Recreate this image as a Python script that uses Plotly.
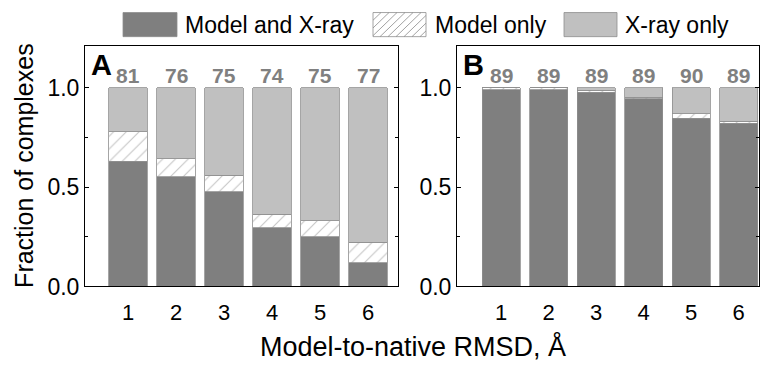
import plotly.graph_objects as go

# ---------------- data ----------------
categories = [1, 2, 3, 4, 5, 6]

# Panel A
a_model_and_xray = [0.630, 0.552, 0.477, 0.295, 0.250, 0.118]
a_model_only = [0.148, 0.091, 0.082, 0.069, 0.080, 0.104]
a_xray_only = [0.222, 0.357, 0.441, 0.636, 0.670, 0.778]
a_counts = [81, 76, 75, 74, 75, 77]

# Panel B
b_model_and_xray = [0.989, 0.989, 0.976, 0.944, 0.847, 0.820]
b_model_only = [0.011, 0.011, 0.011, 0.008, 0.021, 0.010]
b_xray_only = [0.000, 0.000, 0.013, 0.048, 0.132, 0.170]
b_counts = [89, 89, 89, 89, 90, 89]

series_names = ["Model and X-ray", "Model only", "X-ray only"]
panel_labels = ["A", "B"]
y_tickvals = [0.0, 0.5, 1.0]
y_ticktext = ["0.0", "0.5", "1.0"]
x_title = "Model-to-native RMSD, Å"
y_title = "Fraction of complexes"

# ---------------- style ----------------
W, H = 762, 366
FONT = "Arial, Liberation Sans, Helvetica, sans-serif"
DARK = "#7f7f7f"
LIGHT = "#c0c0c0"
EDGE = "#8e8e8e"
HATCH_FG = "#8a8a8a"
COUNT_COLOR = "#808080"


def px_x(x):
    return x / W


def px_y(y):
    return (H - y) / H


fig = go.Figure()

panels = [
    (a_model_and_xray, a_model_only, a_xray_only, "x", "y"),
    (b_model_and_xray, b_model_only, b_xray_only, "x2", "y2"),
]
for both, monly, xonly, xa, ya in panels:
    fig.add_trace(go.Bar(x=categories, y=both, name=series_names[0],
                         marker=dict(color=DARK, line=dict(color=EDGE, width=0.8)),
                         xaxis=xa, yaxis=ya, showlegend=False))
    fig.add_trace(go.Bar(x=categories, y=monly, name=series_names[1],
                         marker=dict(color="white", line=dict(color=EDGE, width=0.8),
                                     pattern=dict(shape="/", fgcolor=HATCH_FG, bgcolor="white",
                                                  size=9, solidity=0.12)),
                         xaxis=xa, yaxis=ya, showlegend=False))
    fig.add_trace(go.Bar(x=categories, y=xonly, name=series_names[2],
                         marker=dict(color=LIGHT, line=dict(color=EDGE, width=0.8)),
                         xaxis=xa, yaxis=ya, showlegend=False))

annotations = []
for counts, xa, ya in [(a_counts, "x", "y"), (b_counts, "x2", "y2")]:
    for c, n in zip(categories, counts):
        annotations.append(dict(x=c, y=1.0, xref=xa, yref=ya, text=f"<b>{n}</b>",
                                showarrow=False, yanchor="bottom", yshift=-1,
                                font=dict(family=FONT, size=21, color=COUNT_COLOR)))

for lab, xa, ya in [(panel_labels[0], "x", "y"), (panel_labels[1], "x2", "y2")]:
    annotations.append(dict(x=0.012, y=1.0, xref=f"{xa} domain", yref=f"{ya} domain",
                            text=f"<b>{lab}</b>", showarrow=False, xanchor="left",
                            yanchor="top", yshift=-1,
                            font=dict(family=FONT, size=29, color="black")))

annotations.append(dict(x=px_x(413), y=px_y(359), xref="paper", yref="paper", text=x_title,
                        showarrow=False, xanchor="center", yanchor="middle",
                        font=dict(family=FONT, size=27, color="black")))
annotations.append(dict(x=px_x(24), y=px_y(172), xref="paper", yref="paper", text=y_title,
                        showarrow=False, textangle=-90, xanchor="center", yanchor="middle",
                        font=dict(family=FONT, size=25, color="black")))

# ---------------- custom legend ----------------
shapes = []
box_top, box_bot = 13, 38
legend_items = [
    (123, 177, "dark", 185, series_names[0]),
    (373, 426, "hatch", 435, series_names[1]),
    (564, 617, "light", 625, series_names[2]),
]
for x0, x1, kind, tx, label in legend_items:
    fill = {"dark": DARK, "hatch": "white", "light": LIGHT}[kind]
    shapes.append(dict(type="rect", xref="paper", yref="paper",
                       x0=px_x(x0), x1=px_x(x1), y0=px_y(box_bot), y1=px_y(box_top),
                       fillcolor=fill, line=dict(color=EDGE, width=0.8)))
    if kind == "hatch":
        step = 8
        hgt = box_bot - box_top
        path = ""
        s = x0 - hgt
        while s < x1:
            xa0, ya0 = s, box_bot
            xa1, ya1 = s + hgt, box_top
            if xa0 < x0:
                ya0 = box_bot - (x0 - xa0)
                xa0 = x0
            if xa1 > x1:
                ya1 = box_top + (xa1 - x1)
                xa1 = x1
            if xa1 > xa0:
                path += f"M{px_x(xa0)},{px_y(ya0)} L{px_x(xa1)},{px_y(ya1)} "
            s += step
        shapes.append(dict(type="path", xref="paper", yref="paper", path=path,
                           line=dict(color=HATCH_FG, width=0.8)))
    annotations.append(dict(x=px_x(tx), y=px_y((box_top + box_bot) / 2), xref="paper",
                            yref="paper", text=label, showarrow=False, xanchor="left",
                            yanchor="middle", xshift=-2,
                            font=dict(family=FONT, size=23, color="black")))

yaxis_common = dict(range=[0, 1.21], tickvals=y_tickvals, ticktext=y_ticktext,
                    ticks="inside", ticklen=4, tickcolor="black", mirror="ticks",
                    showline=True, linecolor="black", linewidth=1, showgrid=False,
                    zeroline=False, tickfont=dict(family=FONT, size=23, color="black"),
                    minor=dict(ticks="inside", ticklen=3, dtick=0.25, tick0=0, tickcolor="black"),
                    domain=[px_y(297), px_y(47.5)])
xaxis_common = dict(tickvals=categories, ticks="", showline=True, linecolor="black",
                    linewidth=1, mirror=True, showgrid=False, zeroline=False,
                    ticklabelstandoff=6,
                    tickfont=dict(family=FONT, size=22, color="black"))

fig.update_layout(
    width=W, height=H, margin=dict(l=0, r=0, t=0, b=0),
    plot_bgcolor="white", paper_bgcolor="white",
    barmode="stack", bargap=0.2, showlegend=False,
    xaxis=dict(xaxis_common, domain=[px_x(85), px_x(398)], range=[0.1, 6.625], anchor="y"),
    yaxis=dict(yaxis_common, anchor="x"),
    xaxis2=dict(xaxis_common, domain=[px_x(457), px_x(759)], range=[0.07, 6.43], anchor="y2"),
    yaxis2=dict(yaxis_common, anchor="x2"),
    annotations=annotations, shapes=shapes,
)

fig.write_html("out.html", config={"displayModeBar": False},
               post_script="document.body.style.margin='0';document.body.style.padding='0';")
